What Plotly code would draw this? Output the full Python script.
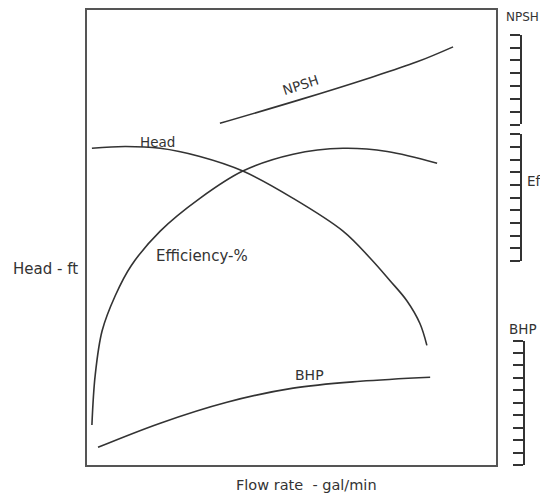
import plotly.graph_objects as go

# Flow rate (0-100 relative scale) and curve values (0-100 relative head scale)
head_flow = [1.2, 9.3, 17.9, 27.6, 38.1, 50.4, 62.6, 69.2, 74.1, 78.2, 81.4, 83.1]
head_vals = [69.6, 70.0, 69.6, 67.8, 64.6, 58.6, 51.4, 45.5, 40.5, 36.1, 31.1, 26.3]

eff_flow = [1.2, 2.0, 3.7, 6.9, 10.8, 17.9, 27.6, 38.1, 50.4, 62.6, 73.4, 85.6]
eff_vals = [8.8, 19.7, 29.5, 37.2, 43.8, 51.4, 58.6, 64.6, 68.3, 69.6, 68.9, 66.3]

bhp_flow = [2.7, 17.9, 34.2, 50.4, 66.8, 83.9]
bhp_vals = [3.9, 9.2, 13.8, 16.9, 18.4, 19.3]

npsh_flow = [32.5, 52.1, 68.5, 80.7, 89.5]
npsh_vals = [75.1, 80.3, 84.9, 88.6, 91.9]

npsh_ticks = list(range(8))
eff_ticks = list(range(11))
bhp_ticks = list(range(11))

LINE = "#333333"
FONT = "DejaVu Sans"

fig = go.Figure()
for fx, fy in [(head_flow, head_vals), (eff_flow, eff_vals), (bhp_flow, bhp_vals), (npsh_flow, npsh_vals)]:
    fig.add_trace(go.Scatter(x=fx, y=fy, mode="lines",
                             line=dict(color=LINE, width=1.6, shape="spline", smoothing=1.0),
                             hoverinfo="skip", showlegend=False))

# invisible traces so the side scales are drawn
for ax in ["y2", "y3", "y4"]:
    fig.add_trace(go.Scatter(x=[None], y=[None], xaxis="x", yaxis=ax, showlegend=False, hoverinfo="skip"))

OFF = 8  # page body margin
W, H = 540, 489
ml, mt, mb = 79, 0, 32
ph = H - mt - mb            # 457
paper_right = 530 - OFF
mr = W - paper_right
pw = paper_right - ml       # 443
xend = 409 / pw

def px(sx):
    return (sx - OFF - ml) / pw

def py(sy):
    return (465 - sy) / ph

scale_common = dict(anchor="free", side="left", showline=True, linecolor=LINE, linewidth=1.5,
                    ticks="outside", ticklen=10, tickwidth=1.5, tickcolor=LINE,
                    showticklabels=False, showgrid=False, zeroline=False, fixedrange=True)

fig.update_layout(
    width=W, height=H,
    margin=dict(l=ml, r=mr, t=mt, b=mb),
    paper_bgcolor="white", plot_bgcolor="rgba(0,0,0,0)",
    showlegend=False,
    font=dict(family=FONT, size=14, color=LINE),
    xaxis=dict(domain=[0, xend], range=[0, 100], showline=True, mirror=True, linecolor="#555555",
               linewidth=2, showticklabels=False, ticks="", showgrid=False, zeroline=False),
    yaxis=dict(domain=[0, 1], range=[0, 100], showline=True, mirror=True, linecolor="#555555",
               linewidth=2, showticklabels=False, ticks="", showgrid=False, zeroline=False),
    yaxis2=dict(domain=[py(123), py(33)], range=[npsh_ticks[0], npsh_ticks[-1]], tickvals=npsh_ticks,
                position=px(521), **scale_common),
    yaxis3=dict(domain=[py(260), py(133)], range=[eff_ticks[0], eff_ticks[-1]], tickvals=eff_ticks,
                position=px(521), **scale_common),
    yaxis4=dict(domain=[0, py(340)], range=[bhp_ticks[0], bhp_ticks[-1]], tickvals=bhp_ticks,
                position=px(524), **scale_common),
)

ann = [
    dict(text="Head - ft", x=px(45.5), y=py(268), xref="paper", yref="paper", font=dict(size=15)),
    dict(text="Flow rate  - gal/min", x=px(306), y=py(485), xref="paper", yref="paper", font=dict(size=14.5)),
    dict(text="NPSH", x=px(522.5), y=py(15), xref="paper", yref="paper", font=dict(size=12)),
    dict(text="Eff", x=px(525), y=py(180), xref="paper", yref="paper", xanchor="left", font=dict(size=13.5)),
    dict(text="BHP", x=px(523), y=py(328), xref="paper", yref="paper", font=dict(size=13.5)),
    dict(text="Head", x=17.2, y=71.0, xref="x", yref="y", font=dict(size=13.5)),
    dict(text="Efficiency-%", x=28.0, y=45.9, xref="x", yref="y", font=dict(size=15)),
    dict(text="BHP", x=54.5, y=19.7, xref="x", yref="y"),
    dict(text="NPSH", x=52.1, y=83.6, xref="x", yref="y", textangle=-18, font=dict(size=13.5)),
]
for a in ann:
    a.setdefault("xanchor", "center")
    a.setdefault("yanchor", "middle")
    a["showarrow"] = False
    fig.add_annotation(**a)

fig.write_html("out.html")
